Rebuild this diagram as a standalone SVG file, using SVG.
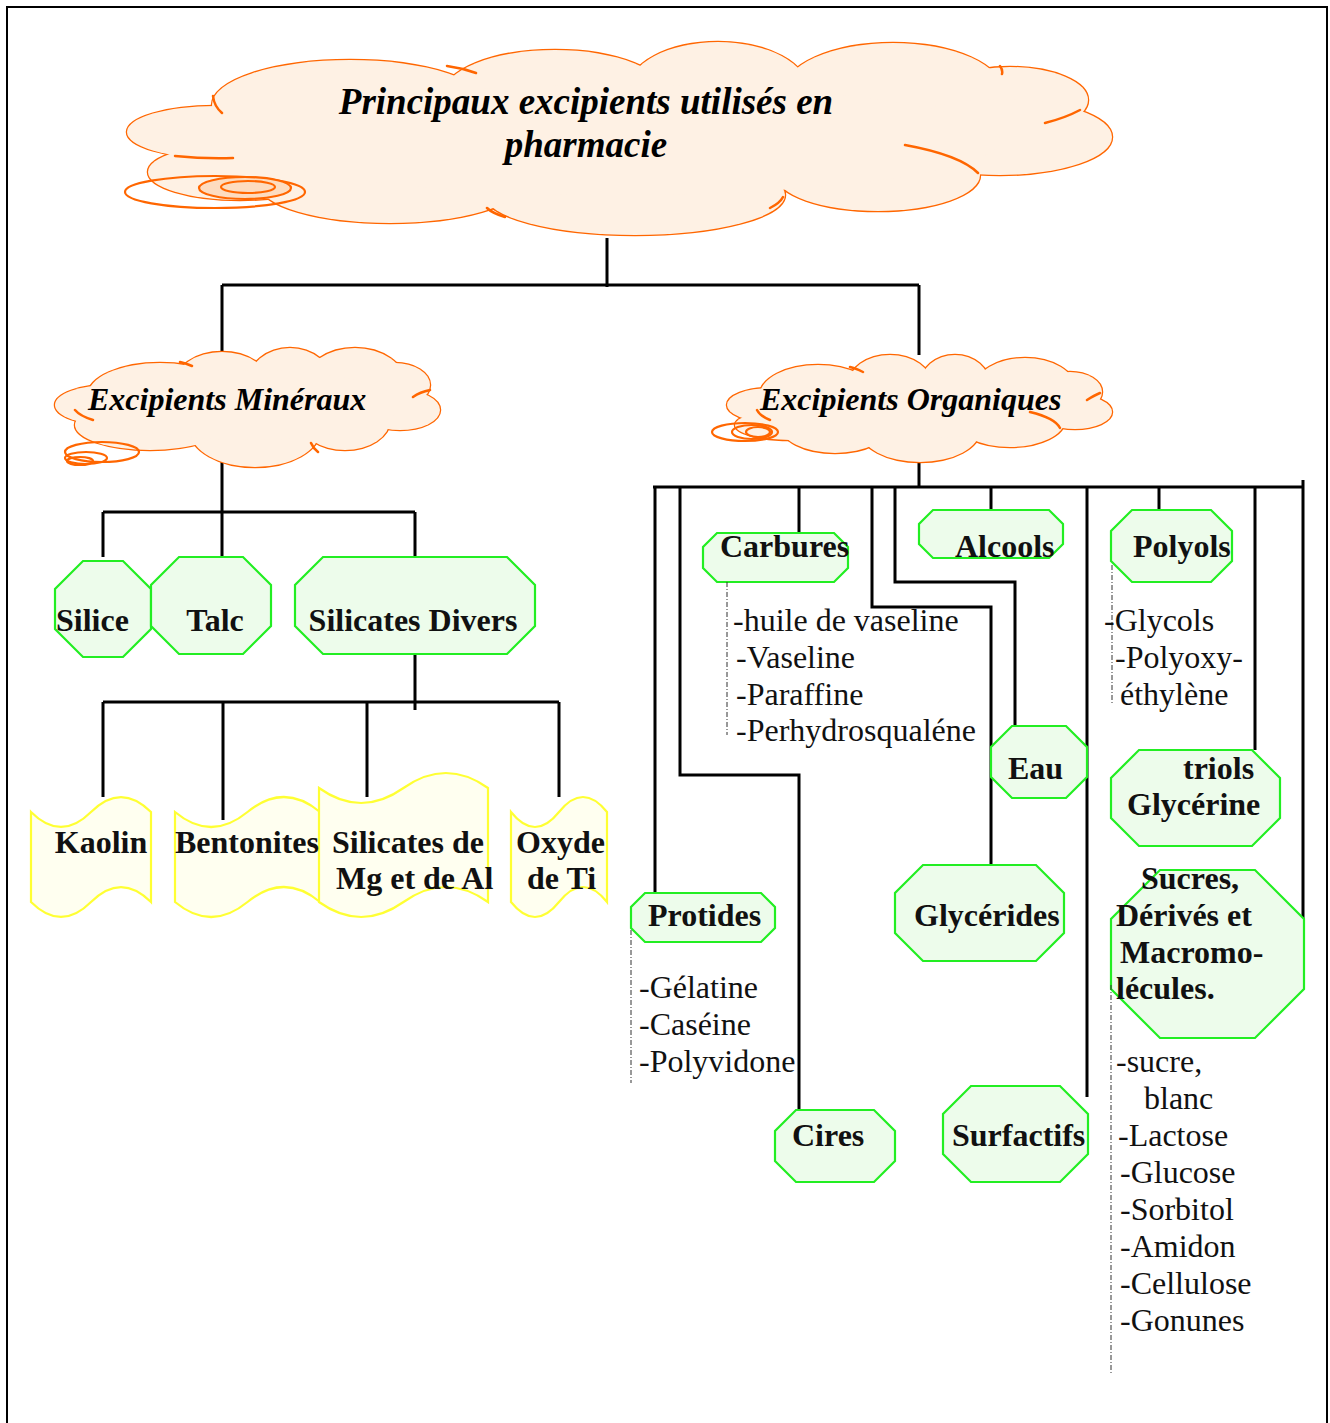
<svg xmlns="http://www.w3.org/2000/svg" xmlns:xlink="http://www.w3.org/1999/xlink" width="1330" height="1423" viewBox="0 0 1330 1423">
<style>
  .cs { fill: none; stroke: #FF6600; stroke-width: 2.5; }
  .cf { fill: #FEF1E4; stroke: none; }
  .tail { fill: none; stroke: #FF6600; stroke-width: 2.5; stroke-linecap: round; }
  .bub { fill: none; stroke: #FF6600; stroke-width: 2.2; }
  .oct { fill: #EDFCEB; stroke: #22EE22; stroke-width: 2.2; }
  .ban { fill: #FFFFF0; stroke: #FFFF33; stroke-width: 2.2; }
  .ln { fill: none; stroke: #000; stroke-width: 3; stroke-linejoin: miter; }
  .dot { fill: none; stroke: #333; stroke-width: 1; stroke-dasharray: 5 2 1 2; }
  .ti { font-family: "Liberation Serif", "Times New Roman", serif; font-weight: bold; font-style: italic; fill: #000; }
  .lb { font-family: "Liberation Serif", "Times New Roman", serif; font-weight: bold; font-size: 32px; fill: #111; }
  .tx { font-family: "Liberation Serif", "Times New Roman", serif; font-size: 32px; fill: #111; }
</style>
<defs>
  <g id="lobesTop">
    <ellipse cx="215" cy="132" rx="88" ry="26"/>
    <ellipse cx="350" cy="105" rx="138" ry="45"/>
    <ellipse cx="555" cy="95" rx="112" ry="45"/>
    <ellipse cx="718" cy="90" rx="90" ry="48"/>
    <ellipse cx="893" cy="92" rx="110" ry="49"/>
    <ellipse cx="1010" cy="100" rx="78" ry="33"/>
    <ellipse cx="1000" cy="137" rx="112" ry="38"/>
    <ellipse cx="878" cy="175" rx="102" ry="36"/>
    <ellipse cx="635" cy="195" rx="150" ry="40"/>
    <ellipse cx="390" cy="185" rx="130" ry="38"/>
    <ellipse cx="240" cy="172" rx="92" ry="28"/>
  </g>
  <g id="lobesMin">
    <ellipse cx="110" cy="405" rx="55" ry="20"/>
    <ellipse cx="160" cy="395" rx="72" ry="32"/>
    <ellipse cx="222" cy="385" rx="48" ry="33"/>
    <ellipse cx="290" cy="383" rx="42" ry="35"/>
    <ellipse cx="355" cy="383" rx="50" ry="35"/>
    <ellipse cx="395" cy="385" rx="35" ry="22"/>
    <ellipse cx="400" cy="410" rx="40" ry="20"/>
    <ellipse cx="345" cy="420" rx="45" ry="30"/>
    <ellipse cx="255" cy="430" rx="65" ry="37"/>
    <ellipse cx="150" cy="425" rx="75" ry="25"/>
  </g>
  <g id="lobesOrg">
    <ellipse cx="770" cy="405" rx="43" ry="17"/>
    <ellipse cx="818" cy="395" rx="58" ry="30"/>
    <ellipse cx="890" cy="385" rx="42" ry="30"/>
    <ellipse cx="955" cy="385" rx="35" ry="30"/>
    <ellipse cx="1025" cy="388" rx="50" ry="30"/>
    <ellipse cx="1070" cy="392" rx="32" ry="20"/>
    <ellipse cx="1075" cy="412" rx="37" ry="17"/>
    <ellipse cx="1010" cy="420" rx="55" ry="27"/>
    <ellipse cx="920" cy="430" rx="60" ry="32"/>
    <ellipse cx="835" cy="425" rx="55" ry="28"/>
    <ellipse cx="790" cy="425" rx="55" ry="15"/>
  </g>
</defs>

<rect x="7" y="7" width="1320" height="1440" fill="#fff" stroke="#000" stroke-width="2"/>

<!-- Connectors -->
<g id="connectors">
  <path class="ln" d="M607,238 V287 M222,285 H919 M222,285 V357 M919,285 V355"/>
  <path class="ln" d="M222,462 V557 M103,512 H415 M103,512 V557 M415,512 V557"/>
  <path class="ln" d="M415,654 V710 M103,702 H559 M103,702 V797 M223,702 V820 M367,702 V797 M559,702 V797"/>
  <path class="ln" d="M919,440 V487"/>
  <path class="ln" stroke-width="4" d="M653,487 H1303"/>
  <path class="ln" d="M1303,480 V935"/>
  <path class="ln" d="M655,487 V893"/>
  <path class="ln" d="M680,487 V775 H799 V1110"/>
  <path class="ln" d="M799,487 V533"/>
  <path class="ln" d="M872,487 V607 H991 V865"/>
  <path class="ln" d="M895,487 V582 H1015 V727"/>
  <path class="ln" d="M991,487 V510"/>
  <path class="ln" d="M1087,487 V1097"/>
  <path class="ln" d="M1159,487 V510"/>
  <path class="ln" d="M1255,487 V750"/>
</g>

<!-- Title cloud -->
<g id="cloud-title">
  <use xlink:href="#lobesTop" href="#lobesTop" class="cs"/>
  <use xlink:href="#lobesTop" href="#lobesTop" class="cf"/>
  <ellipse class="cf" cx="620" cy="140" rx="380" ry="55"/>
  <path class="tail" d="M213,96 Q214,106 222,113 M175,156 Q205,159 233,158 M447,66 Q462,68 476,73 M1080,110 Q1065,118 1045,123 M905,145 Q960,155 978,173 M783,197 Q780,203 770,208 M487,208 Q492,213 505,217 M1000,66 Q1003,70 1002,74"/>
  <ellipse class="bub" cx="215" cy="192" rx="90" ry="16"/>
  <ellipse cx="245" cy="188" rx="46" ry="11" fill="#FDDCC0" stroke="#FF6600" stroke-width="2.2"/>
  <ellipse class="bub" cx="248" cy="187" rx="27" ry="6"/>
  <text class="ti" font-size="37" text-anchor="middle" x="586" y="114">Principaux excipients utilisés en</text>
  <text class="ti" font-size="37" text-anchor="middle" x="586" y="157">pharmacie</text>
</g>

<!-- Mineral cloud -->
<g id="cloud-mineraux">
  <use xlink:href="#lobesMin" href="#lobesMin" class="cs"/>
  <use xlink:href="#lobesMin" href="#lobesMin" class="cf"/>
  <ellipse class="cf" cx="250" cy="405" rx="150" ry="35"/>
  <path class="tail" d="M93,420 Q80,416 75,410 M413,397 Q420,392 430,390 M311,443 Q313,448 318,452 M180,362 Q185,363 192,366"/>
  <ellipse class="bub" cx="102" cy="452" rx="37" ry="10"/>
  <ellipse class="bub" cx="86" cy="458" rx="21" ry="6"/>
  <ellipse class="bub" cx="80" cy="461" rx="13" ry="4"/>
  <text class="ti" font-size="32" x="88" y="410">Excipients Minéraux</text>
</g>

<!-- Organic cloud -->
<g id="cloud-organiques">
  <use xlink:href="#lobesOrg" href="#lobesOrg" class="cs"/>
  <use xlink:href="#lobesOrg" href="#lobesOrg" class="cf"/>
  <ellipse class="cf" cx="915" cy="408" rx="150" ry="30"/>
  <path class="tail" d="M770,420 Q760,416 757,410 M1087,400 Q1095,395 1100,393 M1030,412 Q1055,418 1060,428 M850,367 Q855,368 863,372"/>
  <ellipse class="bub" cx="745" cy="432" rx="33" ry="9"/>
  <ellipse class="bub" cx="752" cy="432" rx="20" ry="7"/>
  <ellipse class="bub" cx="758" cy="432" rx="12" ry="5"/>
  <text class="ti" font-size="32" x="760" y="410">Excipients Organiques</text>
</g>

<!-- Mineral nodes -->
<g id="silice"><polygon class="oct" points="83,561 123,561 151,589 151,629 123,657 83,657 55,629 55,589"/><text class="lb" x="56" y="631">Silice</text></g>
<g id="talc"><polygon class="oct" points="179,557 243,557 271,585 271,626 243,654 179,654 151,626 151,585"/><text class="lb" x="215" y="631" text-anchor="middle">Talc</text></g>
<g id="silicates-divers"><polygon class="oct" points="323,557 507,557 535,585 535,626 507,654 323,654 295,626 295,585"/><text class="lb" x="413" y="631" text-anchor="middle">Silicates Divers</text></g>

<g id="kaolin"><path class="ban" d="M31,812 Q61,842 91,812 Q121,782 151,812 L151,902 Q121,872 91,902 Q61,932 31,902 Z"/><text class="lb" x="101" y="853" text-anchor="middle">Kaolin</text></g>
<g id="bentonites"><path class="ban" d="M175,812 Q211,842 247.5,812 Q284,782 320,812 L320,902 Q284,872 247.5,902 Q211,932 175,902 Z"/></g>
<g id="silicates-mg-al"><path class="ban" d="M319,788 Q361,818 403.5,788 Q446,758 488,788 L488,902 Q446,872 403.5,902 Q361,932 319,902 Z"/><text class="lb" x="332" y="853">Silicates de</text><text class="lb" x="336" y="889">Mg et de Al</text></g>
<g id="oxyde-ti"><path class="ban" d="M511,812 Q535,842 559,812 Q583,782 607,812 L607,902 Q583,872 559,902 Q535,932 511,902 Z"/><text class="lb" x="516" y="853">Oxyde</text><text class="lb" x="527" y="889">de Ti</text></g>
<text class="lb" x="175" y="853">Bentonites</text>

<!-- Organic nodes -->
<g id="carbures"><polygon class="oct" points="717,533 834,533 848,547 848,568 834,582 717,582 703,568 703,547"/><text class="lb" x="720" y="557">Carbures</text>
  <line class="dot" x1="727" y1="582" x2="727" y2="735"/>
  <text class="tx" x="733" y="631">-huile de vaseline</text><text class="tx" x="736" y="668">-Vaseline</text><text class="tx" x="736" y="705">-Paraffine</text><text class="tx" x="736" y="741">-Perhydrosqualéne</text></g>
<g id="alcools"><polygon class="oct" points="933,510 1049,510 1063,524 1063,544 1049,558 933,558 919,544 919,524"/><text class="lb" x="955" y="557">Alcools</text></g>
<g id="polyols"><polygon class="oct" points="1132,510 1211,510 1232,531 1232,561 1211,582 1132,582 1111,561 1111,531"/><text class="lb" x="1133" y="557">Polyols</text>
  <line class="dot" x1="1112" y1="565" x2="1112" y2="705"/>
  <text class="tx" x="1104" y="631">-Glycols</text><text class="tx" x="1115" y="668">-Polyoxy-</text><text class="tx" x="1120" y="705">éthylène</text></g>
<g id="eau"><polygon class="oct" points="1012,726 1066,726 1087,747 1087,777 1066,798 1012,798 991,777 991,747"/><text class="lb" x="1008" y="779">Eau</text></g>
<g id="glycerine"><polygon class="oct" points="1139,750 1252,750 1280,778 1280,818 1252,846 1139,846 1111,818 1111,778"/><text class="lb" x="1183" y="779">triols</text><text class="lb" x="1127" y="815">Glycérine</text></g>
<g id="protides"><polygon class="oct" points="645,893 761,893 775,907 775,928 761,942 645,942 631,928 631,907"/><text class="lb" x="648" y="926">Protides</text>
  <line class="dot" x1="631" y1="930" x2="631" y2="1083"/>
  <text class="tx" x="639" y="998">-Gélatine</text><text class="tx" x="639" y="1035">-Caséine</text><text class="tx" x="639" y="1072">-Polyvidone</text></g>
<g id="glycerides"><polygon class="oct" points="923,865 1036,865 1064,893 1064,933 1036,961 923,961 895,933 895,893"/><text class="lb" x="914" y="926">Glycérides</text></g>
<g id="cires"><polygon class="oct" points="796,1110 874,1110 895,1131 895,1161 874,1182 796,1182 775,1161 775,1131"/><text class="lb" x="792" y="1146">Cires</text></g>
<g id="surfactifs"><polygon class="oct" points="971,1086 1060,1086 1088,1114 1088,1154 1060,1182 971,1182 943,1154 943,1114"/><text class="lb" x="952" y="1146">Surfactifs</text></g>
<g id="sucres"><polygon class="oct" points="1160,870 1255,870 1304,919 1304,989 1255,1038 1160,1038 1111,989 1111,919"/>
  <text class="lb" x="1141" y="889">Sucres,</text><text class="lb" x="1116" y="926">Dérivés et</text><text class="lb" x="1120" y="963">Macromo-</text><text class="lb" x="1116" y="999">lécules.</text>
  <line class="dot" x1="1111" y1="985" x2="1111" y2="1375"/>
  <text class="tx" x="1116" y="1072">-sucre,</text><text class="tx" x="1144" y="1109">blanc</text><text class="tx" x="1118" y="1146">-Lactose</text><text class="tx" x="1120" y="1183">-Glucose</text><text class="tx" x="1120" y="1220">-Sorbitol</text><text class="tx" x="1120" y="1257">-Amidon</text><text class="tx" x="1120" y="1294">-Cellulose</text><text class="tx" x="1120" y="1331">-Gonunes</text></g>
</svg>
